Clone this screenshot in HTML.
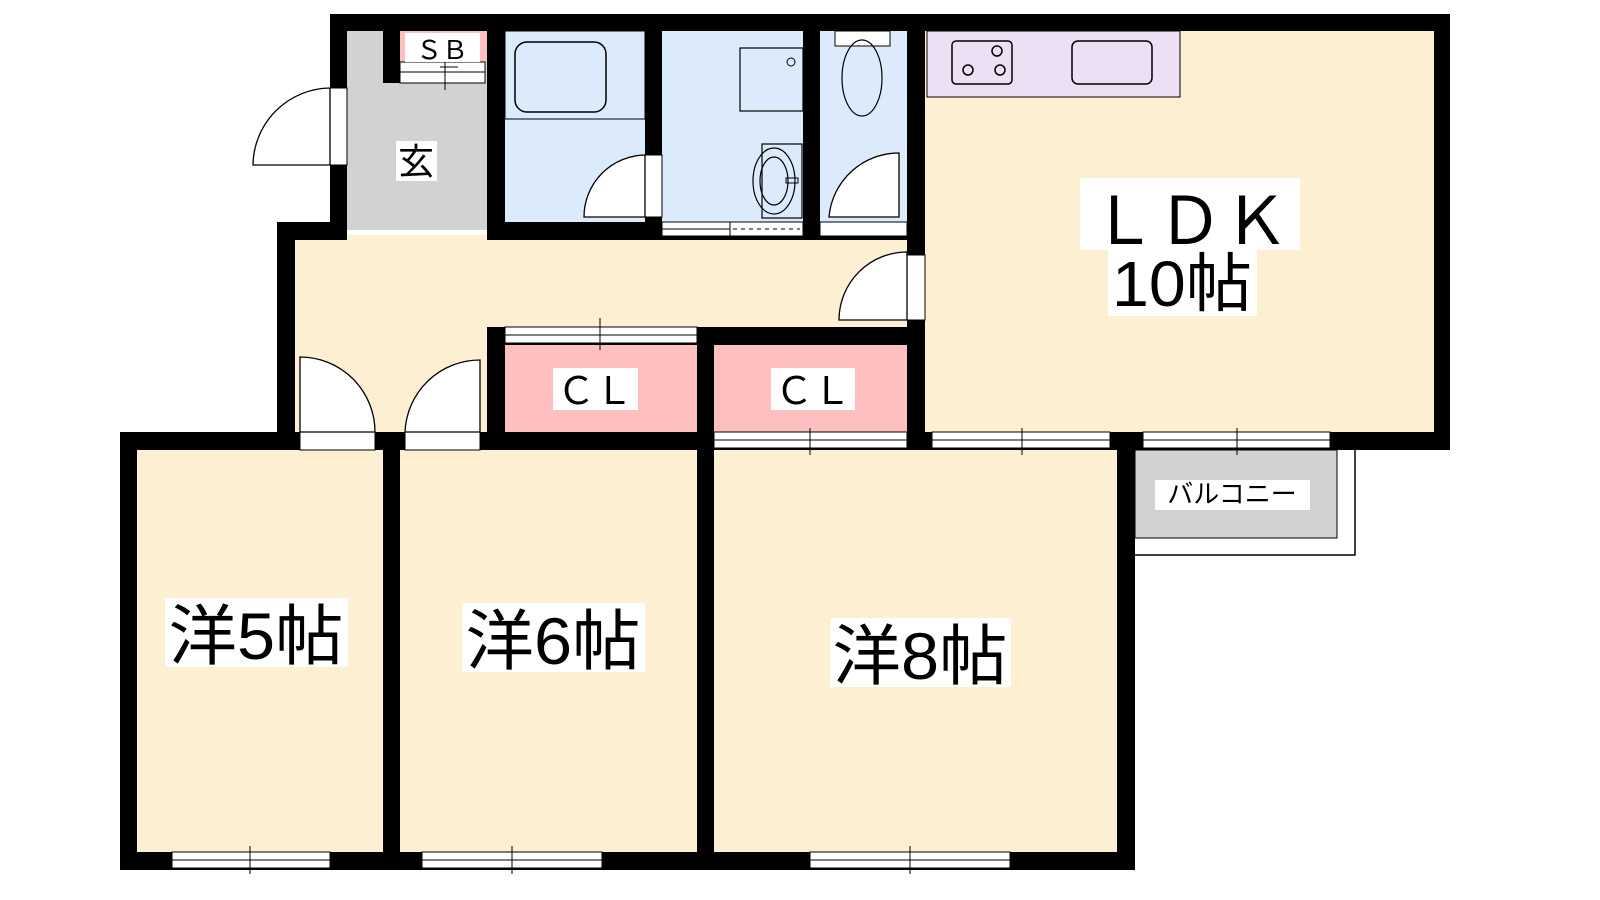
<!DOCTYPE html>
<html><head><meta charset="utf-8"><style>
html,body{margin:0;padding:0;background:#fff;}
svg{display:block}
text{font-family:"Liberation Sans","Noto Sans CJK JP",sans-serif;fill:#000}
</style></head><body>
<svg width="1600" height="900" viewBox="0 0 1600 900" xmlns="http://www.w3.org/2000/svg">
<!-- floors -->
<rect x="295" y="235" width="615" height="200" fill="#fdf0d2"/>
<rect x="137" y="450" width="980" height="405" fill="#fdf0d2"/>
<rect x="925" y="31" width="510" height="405" fill="#fdf0d2"/>
<rect x="347" y="31" width="140" height="199" fill="#d2d2d2"/>
<rect x="400" y="31" width="87" height="31" fill="#fdbfbf"/>
<rect x="505" y="31" width="140" height="191" fill="#dcebfc"/>
<rect x="662" y="31" width="141" height="191" fill="#dcebfc"/>
<rect x="820" y="31" width="87" height="191" fill="#dcebfc"/>
<rect x="505" y="345" width="192" height="87" fill="#fdbfbf"/>
<rect x="714" y="345" width="193" height="87" fill="#fdbfbf"/>
<rect x="1135" y="450" width="202" height="88" fill="#d2d2d2" stroke="#000" stroke-width="1"/>
<polyline points="1135,555 1355,555 1355,450" fill="none" stroke="#000" stroke-width="1.5"/>
<!-- kitchen -->
<rect x="927" y="31" width="253" height="66" fill="#ede0f4" stroke="#000" stroke-width="1"/>
<rect x="952" y="41" width="60" height="43" rx="4" fill="none" stroke="#000" stroke-width="1.5"/>
<circle cx="997" cy="51" r="5" fill="none" stroke="#000" stroke-width="1.5"/>
<circle cx="968" cy="70" r="5" fill="none" stroke="#000" stroke-width="1.5"/>
<circle cx="1000" cy="70" r="5" fill="none" stroke="#000" stroke-width="1.5"/>
<rect x="1072" y="41" width="80" height="43" rx="6" fill="none" stroke="#000" stroke-width="1.5"/>
<!-- bath fixtures -->
<rect x="505" y="31" width="140" height="88" fill="none" stroke="#000" stroke-width="1"/>
<rect x="515" y="42" width="91" height="70" rx="12" fill="none" stroke="#000" stroke-width="1.5"/>
<rect x="740" y="48" width="63" height="63" fill="none" stroke="#000" stroke-width="1.2"/>
<circle cx="791" cy="62" r="4" fill="none" stroke="#000" stroke-width="1"/>
<rect x="762" y="144" width="40" height="74" fill="none" stroke="#000" stroke-width="1.2"/>
<ellipse cx="774" cy="181" rx="21" ry="33" fill="none" stroke="#000" stroke-width="1.2"/>
<ellipse cx="774" cy="181" rx="14" ry="24" fill="none" stroke="#000" stroke-width="1.2"/>
<rect x="786" y="178" width="12" height="5" fill="none" stroke="#000" stroke-width="1"/>
<rect x="835" y="31" width="55" height="15" fill="#fff" stroke="#000" stroke-width="1"/>
<ellipse cx="862" cy="78" rx="20" ry="38" fill="none" stroke="#000" stroke-width="1.2"/>
<!-- walls -->
<g fill="#000">
<rect x="330" y="14" width="1120" height="17"/>
<rect x="1434" y="14" width="16" height="436"/>
<rect x="330" y="14" width="17" height="226"/>
<rect x="277" y="222" width="70" height="18"/>
<rect x="277" y="222" width="18" height="228"/>
<rect x="383" y="31" width="17" height="52"/>
<rect x="487" y="14" width="18" height="226"/>
<rect x="645" y="14" width="17" height="226"/>
<rect x="803" y="14" width="17" height="226"/>
<rect x="487" y="222" width="420" height="18"/>
<rect x="907" y="14" width="18" height="436"/>
<rect x="487" y="327" width="438" height="18"/>
<rect x="487" y="327" width="18" height="123"/>
<rect x="697" y="327" width="17" height="543"/>
<rect x="120" y="432" width="1330" height="18"/>
<rect x="120" y="432" width="17" height="438"/>
<rect x="383" y="432" width="17" height="438"/>
<rect x="1117" y="432" width="18" height="438"/>
<rect x="120" y="852" width="1015" height="18"/>
</g>
<!-- openings / windows (white with lines) -->
<g fill="#fff" stroke="#000" stroke-width="1">
<rect x="330" y="88" width="17" height="77"/>
<rect x="400" y="62" width="85" height="21"/>
<rect x="645" y="155" width="17" height="62"/>
<rect x="662" y="222" width="141" height="14"/>
<rect x="820" y="222" width="87" height="14"/>
<rect x="907" y="255" width="18" height="65"/>
<rect x="505" y="327" width="192" height="16"/>
<rect x="714" y="432" width="193" height="16"/>
<rect x="932" y="432" width="178" height="16"/>
<rect x="1143" y="432" width="187" height="16"/>
<rect x="300" y="432" width="75" height="18"/>
<rect x="405" y="432" width="75" height="18"/>
<rect x="172" y="852" width="158" height="16"/>
<rect x="422" y="852" width="180" height="16"/>
<rect x="810" y="852" width="200" height="16"/>
</g>
<g stroke="#000" stroke-width="1">
<line x1="400" y1="72" x2="485" y2="72"/><line x1="440" y1="67" x2="458" y2="67"/><line x1="445" y1="62" x2="445" y2="90"/>
<line x1="505" y1="335" x2="697" y2="335"/><line x1="600" y1="318" x2="600" y2="350"/>
<line x1="714" y1="440" x2="907" y2="440"/><line x1="810" y1="428" x2="810" y2="455"/>
<line x1="932" y1="440" x2="1110" y2="440"/><line x1="1022" y1="428" x2="1022" y2="455"/>
<line x1="1143" y1="440" x2="1330" y2="440"/><line x1="1237" y1="428" x2="1237" y2="455"/>
<line x1="172" y1="860" x2="330" y2="860"/><line x1="250" y1="846" x2="250" y2="874"/>
<line x1="422" y1="860" x2="602" y2="860"/><line x1="512" y1="846" x2="512" y2="874"/>
<line x1="810" y1="860" x2="1010" y2="860"/><line x1="910" y1="846" x2="910" y2="874"/>
<line x1="662" y1="229" x2="730" y2="229"/><line x1="730" y1="222" x2="730" y2="236"/>
<line x1="733" y1="229" x2="800" y2="229" stroke-dasharray="4,4"/>
</g>
<!-- door arcs -->
<g fill="#fff" stroke="#000" stroke-width="1.3">
<path d="M253,165 A78,78 0 0 1 330,88 L330,165 Z"/>
<path d="M584,217 A62,62 0 0 1 645,155 L645,217 Z"/>
<path d="M829,217 A70,70 0 0 1 899,153 L899,217 Z"/>
<path d="M839,320 A68,68 0 0 1 907,252 L907,320 Z"/>
<path d="M300,357 A75,75 0 0 1 375,432 L300,432 Z"/>
<path d="M405,432 A75,75 0 0 1 480,360 L480,432 Z"/>
</g>
<!-- labels -->
<g fill="#fff">
<rect x="405" y="33" width="75" height="29"/>
<rect x="396" y="141" width="41" height="40"/>
<rect x="553" y="368" width="85" height="42"/>
<rect x="771" y="368" width="84" height="42"/>
<rect x="1080" y="178" width="220" height="72"/>
<rect x="1108" y="250" width="149" height="66"/>
<rect x="1155" y="480" width="155" height="30"/>
<rect x="165" y="598" width="183" height="69"/>
<rect x="462" y="603" width="183" height="69"/>
<rect x="830" y="618" width="181" height="69"/>
</g>
<text x="442" y="59" font-size="26" text-anchor="middle">ＳＢ</text>
<text x="416" y="174" font-size="36" text-anchor="middle">玄</text>
<text x="595" y="404" font-size="38" text-anchor="middle">ＣＬ</text>
<text x="813" y="404" font-size="38" text-anchor="middle">ＣＬ</text>
<text x="1190" y="244" font-size="66" text-anchor="middle">ＬＤＫ</text>
<text x="1182" y="306" font-size="64" text-anchor="middle" textLength="140" lengthAdjust="spacingAndGlyphs">10帖</text>
<text x="1232" y="503" font-size="26" text-anchor="middle">バルコニー</text>
<text x="256" y="659" font-size="66" text-anchor="middle" textLength="175" lengthAdjust="spacingAndGlyphs">洋5帖</text>
<text x="553" y="664" font-size="66" text-anchor="middle" textLength="175" lengthAdjust="spacingAndGlyphs">洋6帖</text>
<text x="920" y="679" font-size="66" text-anchor="middle" textLength="175" lengthAdjust="spacingAndGlyphs">洋8帖</text>
</svg>
</body></html>
